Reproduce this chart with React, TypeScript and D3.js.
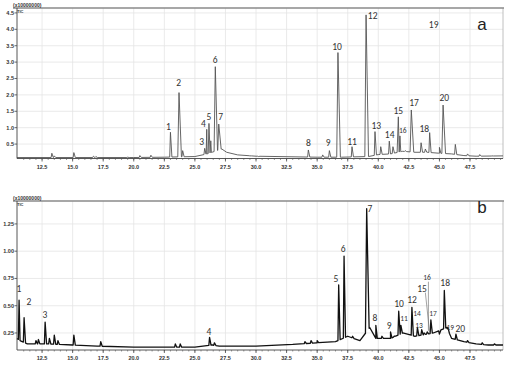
import React from 'react';
import * as d3 from 'd3';

// retention time axis (min)
const timeDomain = [10.45, 50.2];
const timeTicks = [12.5, 15.0, 17.5, 20.0, 22.5, 25.0, 27.5, 30.0, 32.5, 35.0, 37.5, 40.0, 42.5, 45.0, 47.5];

// panel a: intensity (x10000000)
const aTicks = [0.5, 1.0, 1.5, 2.0, 2.5, 3.0, 3.5, 4.0, 4.5];
const aBaseT = [10.45, 20, 22.5, 25, 26.0, 27.2, 27.6, 28.5, 30, 35, 37, 39.2, 40, 41, 42, 43, 44, 45, 46, 47, 48, 50.2];
const aBaseV = [0.09, 0.09, 0.1, 0.12, 0.2, 0.35, 0.25, 0.17, 0.13, 0.1, 0.1, 0.12, 0.18, 0.2, 0.28, 0.25, 0.25, 0.22, 0.2, 0.15, 0.13, 0.14];
const aPeakT = [13.3, 13.5, 15.1, 16.7, 16.9, 19.5, 20.5, 21.4, 23.0, 23.7, 24.0, 25.8, 25.97, 26.15, 26.3, 26.67, 26.95, 29.5, 30.2, 34.28, 35.45, 36.0, 36.7, 37.85, 39.0, 39.73, 40.2, 40.9, 41.2, 41.64, 41.77, 42.2, 42.7, 43.5, 43.85, 44.2, 45.0, 45.3, 46.3, 47.3, 48.3, 49.3];
const aPeakV = [0.22, 0.14, 0.24, 0.13, 0.12, 0.1, 0.15, 0.16, 0.86, 2.07, 0.3, 0.37, 0.95, 1.13, 0.6, 2.86, 1.11, 0.14, 0.12, 0.32, 0.17, 0.3, 3.29, 0.42, 4.44, 0.88, 0.42, 0.59, 0.42, 1.33, 0.75, 0.3, 1.54, 0.54, 0.35, 0.85, 0.4, 1.69, 0.49, 0.2, 0.18, 0.14];
const aLabels = ['1', '2', '3', '4', '5', '6', '7', '8', '9', '10', '11', '12', '13', '14', '15', '16', '17', '18', '19', '20'];
const aLabelT = [22.83, 23.68, 25.56, 25.69, 26.15, 26.65, 27.11, 34.28, 35.91, 36.62, 37.85, 39.54, 39.84, 40.93, 41.64, 42.0, 42.92, 43.76, 44.53, 45.4];
const aLabelV = [1.03, 2.35, 0.55, 1.1, 1.32, 3.06, 1.32, 0.52, 0.52, 3.45, 0.55, 4.42, 1.05, 0.78, 1.51, 0.9, 1.76, 0.95, 4.13, 1.91];

// panel b
const bTicks = [0.25, 0.5, 0.75, 1.0, 1.25];
const bBaseT = [10.45, 10.7, 11.3, 13, 15, 17, 20, 25, 26.4, 27, 30, 33, 35, 36.5, 37.5, 38.5, 39.3, 39.8, 41, 42, 43, 44.5, 45.6, 46, 47, 48, 49, 50.2];
const bBaseV = [0.2, 0.18, 0.15, 0.15, 0.14, 0.13, 0.12, 0.12, 0.14, 0.13, 0.13, 0.145, 0.16, 0.17, 0.22, 0.18, 0.3, 0.2, 0.2, 0.25, 0.22, 0.25, 0.3, 0.2, 0.17, 0.15, 0.14, 0.14];
const bPeakT = [10.62, 11.03, 12.0, 12.2, 12.75, 13.1, 13.5, 13.8, 15.1, 17.3, 23.4, 23.8, 26.2, 26.6, 34.0, 34.5, 35.0, 36.76, 37.2, 37.9, 39.05, 39.8, 40.3, 41.0, 41.3, 41.67, 41.85, 42.75, 43.2, 43.55, 43.75, 44.0, 44.3, 45.0, 45.4, 45.7, 46.35, 47.3, 48.5, 49.5];
const bPeakV = [0.55, 0.39, 0.18, 0.19, 0.35, 0.2, 0.23, 0.18, 0.23, 0.17, 0.15, 0.15, 0.21, 0.16, 0.17, 0.18, 0.18, 0.69, 0.955, 0.22, 1.39, 0.32, 0.22, 0.26, 0.22, 0.45, 0.32, 0.485, 0.3, 0.28, 0.25, 0.26, 0.37, 0.24, 0.64, 0.3, 0.24, 0.18, 0.16, 0.15];
const bLabels = ['1', '2', '3', '4', '5', '6', '7', '8', '9', '10', '11', '12', '13', '14', '15', '16', '17', '18', '19', '20'];
const bLabelT = [10.61, 11.43, 12.74, 26.15, 36.54, 37.12, 39.32, 39.73, 40.88, 41.69, 42.1, 42.76, 43.33, 43.17, 43.58, 43.99, 44.48, 45.47, 45.88, 46.7];
const bLabelV = [0.653, 0.534, 0.415, 0.259, 0.745, 1.02, 1.386, 0.387, 0.314, 0.516, 0.387, 0.552, 0.323, 0.433, 0.653, 0.763, 0.433, 0.708, 0.296, 0.286];
const bSmall = ['11', '13', '14', '16', '17', '19'];

const W = 512;
const H = 369;
const x = d3.scaleLinear().domain(timeDomain).range([17, 503]);
const minor = d3.range(11, 50.1, 0.5);

type PanelProps = {
  top: number;
  bottom: number;
  yDomain: [number, number];
  ticks: number[];
  fmt: (v: number) => string;
  baseT: number[];
  baseV: number[];
  peakT: number[];
  peakV: number[];
  labels: string[];
  labelT: number[];
  labelV: number[];
  small: string[];
  letter: string;
  letterY: number;
  stroke: string;
  strokeWidth: number;
};

const Panel = (p: PanelProps) => {
  const y = d3.scaleLinear().domain(p.yDomain).range([p.bottom, p.top]);
  const base = d3.scaleLinear().domain(p.baseT).range(p.baseV).clamp(true);

  const pts: [number, number][] = p.baseT.map((t, i) => [t, p.baseV[i]]);
  p.peakT.forEach((t, i) => {
    const w = p.peakV[i] > 1 ? 0.1 : 0.06;
    pts.push([t - w, base(t - w)]);
    pts.push([t, p.peakV[i]]);
    pts.push([t + w * 2, base(t + w * 2)]);
  });
  pts.sort((a, b) => a[0] - b[0]);
  const line = d3.line<[number, number]>().x((d) => x(d[0])).y((d) => y(d[1]));

  const left = x.range()[0];
  const right = x.range()[1];
  const font = 'Liberation Sans, Arial, sans-serif';

  return (
    <g>
      {timeTicks.map((t) => (
        <line key={'gx' + t} x1={x(t)} x2={x(t)} y1={p.top} y2={p.bottom} stroke="#e4e4e4" strokeWidth={0.8} />
      ))}
      {p.ticks.map((v) => (
        <line key={'gy' + v} x1={left} x2={right} y1={y(v)} y2={y(v)} stroke="#e4e4e4" strokeWidth={0.8} />
      ))}
      <line x1={right} x2={right} y1={p.top} y2={p.bottom} stroke="#b0b0b0" strokeWidth={0.8} />
      <line x1={13} x2={right + 1} y1={p.top} y2={p.top} stroke="#8a8a8a" strokeWidth={1.4} />
      <text x={13} y={p.top - 1.5} fontSize={5} fontFamily={font} fontWeight="bold" fill="#333">(x10000000)</text>
      <text x={17} y={p.top + 4.5} fontSize={4} fontFamily={font} fontWeight="bold" fill="#333">TIC</text>

      <path d={line(pts) || ''} fill="none" stroke={p.stroke} strokeWidth={p.strokeWidth} strokeLinejoin="round" />

      <line x1={left} x2={left} y1={p.top} y2={p.bottom} stroke="#444" strokeWidth={0.9} />
      <line x1={left} x2={right} y1={p.bottom} y2={p.bottom} stroke="#444" strokeWidth={0.9} />
      {minor.map((t) => (
        <line key={'mt' + t} x1={x(t)} x2={x(t)} y1={p.bottom} y2={p.bottom + 1.5} stroke="#555" strokeWidth={0.6} />
      ))}
      {timeTicks.map((t) => (
        <g key={'xt' + t}>
          <line x1={x(t)} x2={x(t)} y1={p.bottom} y2={p.bottom + 3} stroke="#444" strokeWidth={0.8} />
          <text x={x(t)} y={p.bottom + 10} textAnchor="middle" fontSize={5.5} fontFamily={font} fontWeight="bold" fill="#333">
            {t.toFixed(1)}
          </text>
        </g>
      ))}
      {p.ticks.map((v) => (
        <g key={'yt' + v}>
          <line x1={left - 2.5} x2={left} y1={y(v)} y2={y(v)} stroke="#444" strokeWidth={0.8} />
          <text x={left - 3} y={y(v) + 2} textAnchor="end" fontSize={5.5} fontFamily={font} fontWeight="bold" fill="#333">
            {p.fmt(v)}
          </text>
        </g>
      ))}

      {p.labels.map((s, i) => (
        <text
          key={'lb' + s}
          x={x(p.labelT[i])}
          y={y(p.labelV[i])}
          textAnchor="middle"
          dominantBaseline="central"
          fontSize={p.small.includes(s) ? 7.5 : 9.5}
          fontFamily="Carlito, Liberation Sans, Arial, sans-serif"
          fill="#333"
        >
          {s}
        </text>
      ))}
      <text x={right - 21} y={p.letterY} textAnchor="middle" fontSize={17} fontFamily={font} fill="#222">
        {p.letter}
      </text>
    </g>
  );
};

const App = () => {
  const by = d3.scaleLinear().domain([0.094, 1.46]).range([350, 201]);
  return (
    <svg width={W} height={H} style={{ position: 'absolute', left: 0, top: 0, background: '#fff' }}>
      <rect width={W} height={H} fill="#fff" />
      <Panel
        top={8}
        bottom={158.5}
        yDomain={[0.06, 4.65]}
        ticks={aTicks}
        fmt={(v) => v.toFixed(1)}
        baseT={aBaseT}
        baseV={aBaseV}
        peakT={aPeakT}
        peakV={aPeakV}
        labels={aLabels}
        labelT={aLabelT}
        labelV={aLabelV}
        small={['16']}
        letter="a"
        letterY={30}
        stroke="#555"
        strokeWidth={0.9}
      />
      <Panel
        top={201}
        bottom={350}
        yDomain={[0.094, 1.46]}
        ticks={bTicks}
        fmt={(v) => v.toFixed(2)}
        baseT={bBaseT}
        baseV={bBaseV}
        peakT={bPeakT}
        peakV={bPeakV}
        labels={bLabels}
        labelT={bLabelT}
        labelV={bLabelV}
        small={bSmall}
        letter="b"
        letterY={213}
        stroke="#111"
        strokeWidth={1.3}
      />
      {/* leader lines for 15 and 16 in panel b */}
      <line x1={x(44.1)} x2={x(44.1)} y1={by(0.72)} y2={by(0.27)} stroke="#666" strokeWidth={0.6} />
      <line x1={x(43.85)} x2={x(44.2)} y1={by(0.62)} y2={by(0.25)} stroke="#666" strokeWidth={0.6} />
    </svg>
  );
};

export default App;
